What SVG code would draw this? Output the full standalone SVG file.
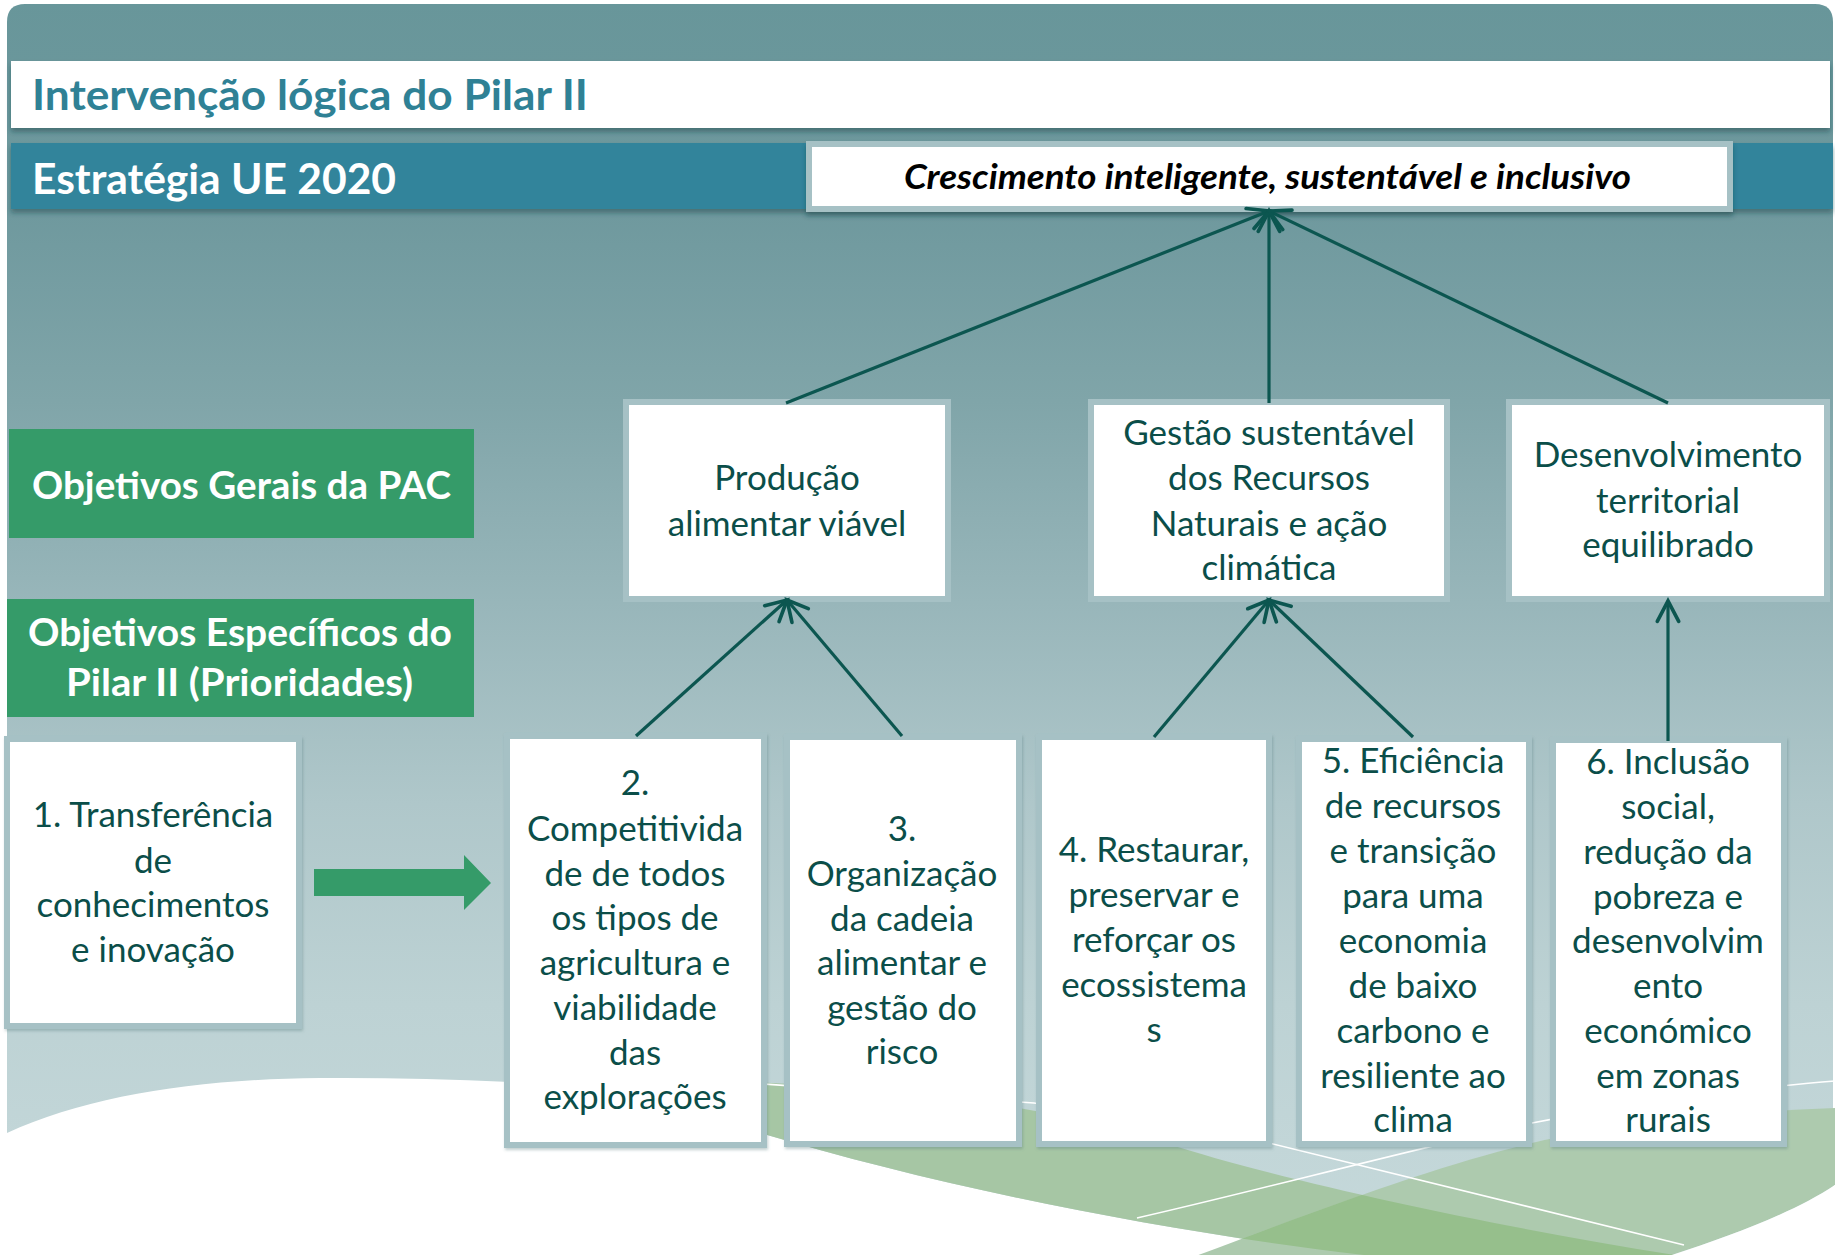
<svg xmlns="http://www.w3.org/2000/svg" width="1835" height="1255" viewBox="0 0 1835 1255">
  <defs>
    <linearGradient id="panelGrad" gradientUnits="userSpaceOnUse" x1="0" y1="0" x2="0" y2="1255">
      <stop offset="0" stop-color="#68969a"/>
      <stop offset="0.17" stop-color="#6f999e"/>
      <stop offset="0.32" stop-color="#80a5a9"/>
      <stop offset="0.48" stop-color="#98b6ba"/>
      <stop offset="0.64" stop-color="#afc7ca"/>
      <stop offset="0.8" stop-color="#bdd2d4"/>
      <stop offset="1" stop-color="#c6d9db"/>
    </linearGradient>
    <filter id="barShadow" x="-5%" y="-30%" width="110%" height="160%">
      <feDropShadow dx="0" dy="4" stdDeviation="2.5" flood-color="#1f3f44" flood-opacity="0.45"/>
    </filter>
    <filter id="boxShadow" x="-5%" y="-5%" width="110%" height="110%">
      <feDropShadow dx="1" dy="2" stdDeviation="1.5" flood-color="#4d7479" flood-opacity="0.35"/>
    </filter>
    <marker id="openArrow" markerUnits="userSpaceOnUse" markerWidth="30" markerHeight="30" viewBox="-24 -14 28 28" refX="0" refY="0" orient="auto">
      <path d="M-19,-10 L0,0 L-19,10" fill="none" stroke="#0c5650" stroke-width="3.4" stroke-linecap="round" stroke-linejoin="miter"/>
    </marker>
    <clipPath id="swooshA">
      <path d="M700,1080 C880,1086 1030,1100 1165,1143 C1300,1186 1520,1232 1720,1262 L1430,1262 C1200,1240 950,1190 760,1133 Z"/>
    </clipPath>
    <style>
      .box { fill: #ffffff; stroke: #a6c1c5; stroke-width: 6; }
      .label { fill: #359b69; }
      .head { font-family: Lato, "Open Sans", "Liberation Sans", sans-serif; font-weight: bold; }
      .body { font-family: Lato, "Open Sans", "Liberation Sans", sans-serif; font-size: 35px; fill: #0b4e49; text-anchor: middle; }
      .conn { fill: none; stroke: #0c5650; stroke-width: 3.2; marker-end: url(#openArrow); }
      .wline { fill: none; stroke: #ffffff; stroke-width: 1.6; }
    </style>
  </defs>

  <!-- page -->
  <rect x="0" y="0" width="1835" height="1255" fill="#ffffff"/>

  <!-- background panel with rounded top corners -->
  <path d="M7,1255 L7,22 Q7,4 25,4 L1815,4 Q1833,4 1833,22 L1833,1255 Z" fill="url(#panelGrad)"/>

  <!-- bottom decoration: white sweep and green swooshes -->
  <g id="decoration">
    <path d="M7,1133 C90,1095 200,1079 320,1078 C460,1077 600,1085 760,1100 L760,1133 C950,1190 1200,1240 1430,1262 L7,1262 Z" fill="#ffffff"/>
    <path d="M700,1080 C880,1086 1030,1100 1165,1143 C1300,1186 1520,1232 1720,1262 L1430,1262 C1200,1240 950,1190 760,1133 Z" fill="#a6c6a4"/>
    <path d="M1835,1108 C1720,1112 1610,1125 1532,1143 C1440,1165 1330,1205 1180,1262 L1650,1262 C1720,1240 1790,1215 1835,1185 Z" fill="#adcaae"/>
    <path d="M1835,1108 C1720,1112 1610,1125 1532,1143 C1440,1165 1330,1205 1180,1262 L1650,1262 C1720,1240 1790,1215 1835,1185 Z" fill="#96bf8c" clip-path="url(#swooshA)"/>
    <path d="M1835,1185 C1790,1215 1720,1240 1650,1262 L1835,1262 Z" fill="#ffffff"/>
    <path class="wline" d="M750,1083 C860,1090 960,1097 1034,1103 C1130,1118 1210,1132 1269,1143 C1420,1180 1560,1215 1684,1245"/>
    <path class="wline" d="M1835,1081 C1780,1085 1650,1100 1532,1123 C1400,1152 1260,1190 1137,1218"/>
  </g>

  <!-- header bars -->
  <g id="title-bar">
    <rect x="11" y="61" width="1819" height="67" fill="#ffffff" filter="url(#barShadow)"/>
    <text x="32" y="110" class="head" font-size="42" fill="#2f8195" textLength="556" lengthAdjust="spacingAndGlyphs">Intervenção lógica do Pilar II</text>
  </g>
  <g id="strategy-bar">
    <rect x="11" y="143" width="1822" height="66" fill="#31849b" filter="url(#barShadow)"/>
    <text x="32" y="194" class="head" font-size="42" fill="#ffffff" textLength="364" lengthAdjust="spacingAndGlyphs">Estratégia UE 2020</text>
  </g>
  <g id="goal-eu2020">
    <rect x="809" y="144" width="921" height="65" class="box" stroke="#a9c5c9" filter="url(#barShadow)"/>
    <text x="904" y="189" class="head" font-size="34" font-style="italic" fill="#000000" textLength="727" lengthAdjust="spacingAndGlyphs">Crescimento inteligente, sustentável e inclusivo</text>
  </g>

  <!-- row labels -->
  <g id="label-general">
    <rect x="9" y="429" width="465" height="109" class="label"/>
    <text x="32" y="499" class="head" font-size="38" fill="#ffffff" textLength="419" lengthAdjust="spacingAndGlyphs">Objetivos Gerais da PAC</text>
  </g>
  <g id="label-specific">
    <rect x="7" y="599" width="467" height="118" class="label"/>
    <text x="28" y="646" class="head" font-size="38" fill="#ffffff" textLength="424" lengthAdjust="spacingAndGlyphs">Objetivos Específicos do</text>
    <text x="66" y="696" class="head" font-size="38" fill="#ffffff" textLength="347" lengthAdjust="spacingAndGlyphs">Pilar II (Prioridades)</text>
  </g>

  <!-- general objectives -->
  <g id="go-food">
    <rect x="626" y="402" width="322" height="197" class="box"/>
    <text class="body"><tspan x="787" y="490">Produção</tspan><tspan x="787" y="536">alimentar viável</tspan></text>
  </g>
  <g id="go-resources">
    <rect x="1091" y="402" width="356" height="197" class="box"/>
    <text class="body"><tspan x="1269" y="445">Gestão sustentável</tspan><tspan x="1269" y="490">dos Recursos</tspan><tspan x="1269" y="536">Naturais e ação</tspan><tspan x="1269" y="580">climática</tspan></text>
  </g>
  <g id="go-territorial">
    <rect x="1509" y="402" width="318" height="197" class="box"/>
    <text class="body"><tspan x="1668" y="467">Desenvolvimento</tspan><tspan x="1668" y="513">territorial</tspan><tspan x="1668" y="557">equilibrado</tspan></text>
  </g>

  <!-- pillar II priorities -->
  <g id="p1">
    <rect x="7" y="739" width="292" height="287" class="box" filter="url(#boxShadow)"/>
    <text class="body"><tspan x="153" y="827">1. Transferência</tspan><tspan x="153" y="873">de</tspan><tspan x="153" y="917">conhecimentos</tspan><tspan x="153" y="962">e inovação</tspan></text>
  </g>
  <g id="p2">
    <rect x="507" y="736" width="257" height="409" class="box" filter="url(#boxShadow)"/>
    <text class="body"><tspan x="635" y="795">2.</tspan><tspan x="635" y="841">Competitivida</tspan><tspan x="635" y="886">de de todos</tspan><tspan x="635" y="930">os tipos de</tspan><tspan x="635" y="975">agricultura e</tspan><tspan x="635" y="1020">viabilidade</tspan><tspan x="635" y="1065">das</tspan><tspan x="635" y="1109">explorações</tspan></text>
  </g>
  <g id="p3">
    <rect x="787" y="737" width="232" height="407" class="box" filter="url(#boxShadow)"/>
    <text class="body"><tspan x="902" y="841">3.</tspan><tspan x="902" y="886">Organização</tspan><tspan x="902" y="931">da cadeia</tspan><tspan x="902" y="975">alimentar e</tspan><tspan x="902" y="1020">gestão do</tspan><tspan x="902" y="1064">risco</tspan></text>
  </g>
  <g id="p4">
    <rect x="1039" y="737" width="230" height="407" class="box" filter="url(#boxShadow)"/>
    <text class="body"><tspan x="1154" y="862">4. Restaurar,</tspan><tspan x="1154" y="907">preservar e</tspan><tspan x="1154" y="952">reforçar os</tspan><tspan x="1154" y="997">ecossistema</tspan><tspan x="1154" y="1042">s</tspan></text>
  </g>
  <g id="p5">
    <rect x="1299" y="739" width="230" height="405" class="box" filter="url(#boxShadow)"/>
    <text class="body"><tspan x="1413" y="773">5. Eficiência</tspan><tspan x="1413" y="818">de recursos</tspan><tspan x="1413" y="863">e transição</tspan><tspan x="1413" y="908">para uma</tspan><tspan x="1413" y="953">economia</tspan><tspan x="1413" y="998">de baixo</tspan><tspan x="1413" y="1043">carbono e</tspan><tspan x="1413" y="1088">resiliente ao</tspan><tspan x="1413" y="1132">clima</tspan></text>
  </g>
  <g id="p6">
    <rect x="1553" y="740" width="231" height="404" class="box" filter="url(#boxShadow)"/>
    <text class="body"><tspan x="1668" y="774">6. Inclusão</tspan><tspan x="1668" y="819">social,</tspan><tspan x="1668" y="864">redução da</tspan><tspan x="1668" y="909">pobreza e</tspan><tspan x="1668" y="953">desenvolvim</tspan><tspan x="1668" y="998">ento</tspan><tspan x="1668" y="1043">económico</tspan><tspan x="1668" y="1088">em zonas</tspan><tspan x="1668" y="1132">rurais</tspan></text>
  </g>

  <!-- block arrow from priority 1 to priority 2 -->
  <g id="flow-arrow">
    <path d="M314,869 L464,869 L464,855 L491,883 L464,910 L464,896 L314,896 Z" fill="#359b69"/>
  </g>

  <!-- connectors -->
  <g id="connectors">
    <path class="conn" d="M786,403 L1269,211"/>
    <path class="conn" d="M1269,403 L1269,211"/>
    <path class="conn" d="M1668,403 L1269,211"/>
    <path class="conn" d="M636,736 L787,600"/>
    <path class="conn" d="M902,736 L787,600"/>
    <path class="conn" d="M1154,737 L1269,600"/>
    <path class="conn" d="M1413,737 L1269,600"/>
    <path class="conn" d="M1668,741 L1668,601"/>
  </g>
</svg>
